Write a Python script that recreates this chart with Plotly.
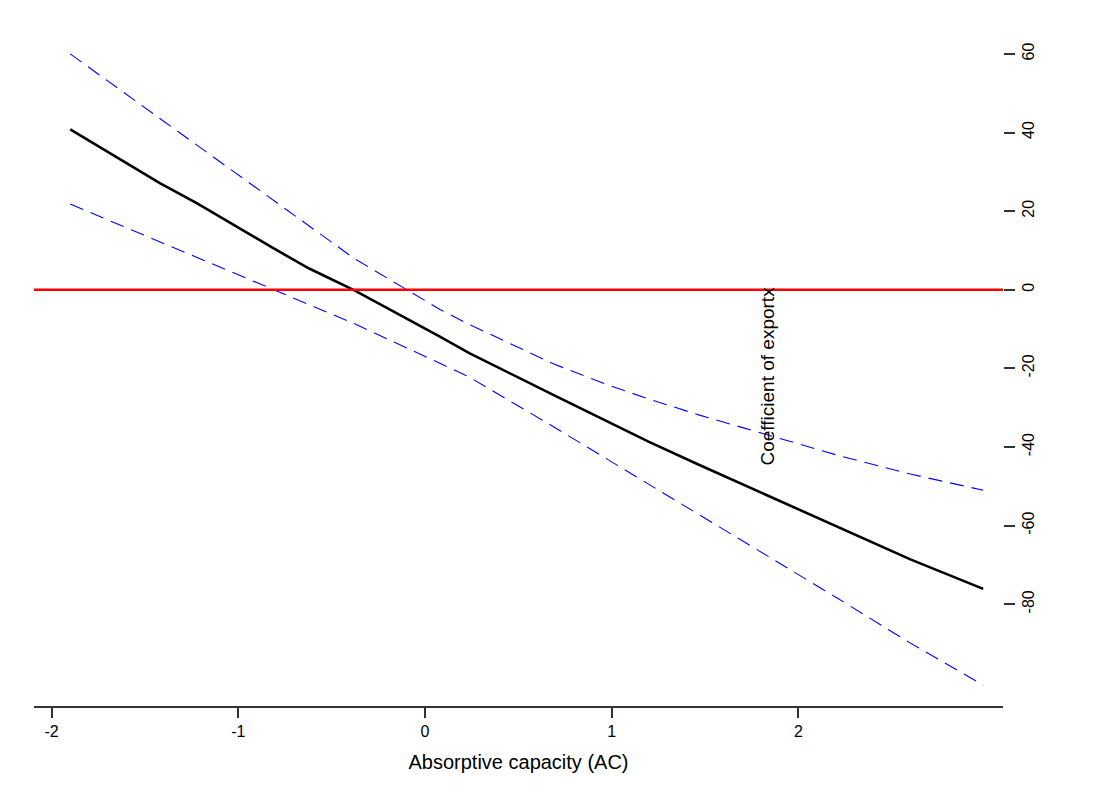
import plotly.graph_objects as go

# Absorptive capacity grid (x) and marginal effect estimates
ac = [-1.90, -1.59, -1.42, -1.22, -0.81, -0.62, -0.38, 0.08, 0.24, 0.69, 0.99, 1.20, 1.47, 1.71, 2.01, 2.21, 2.60, 2.99]
coef = [40.8, 32.0, 27.1, 22.0, 10.5, 5.4, -0.1, -11.9, -16.2, -26.8, -33.8, -38.7, -44.6, -49.7, -56.1, -60.3, -68.6, -76.1]
upper = [60.0, 49.4, 43.6, 36.7, 22.7, 16.2, 8.0, -5.0, -8.9, -18.9, -24.4, -27.8, -31.9, -35.2, -39.4, -42.1, -46.9, -51.0]
lower = [21.8, 15.6, 12.2, 8.2, 0.0, -3.8, -8.6, -18.7, -22.3, -34.9, -43.5, -49.5, -57.3, -64.3, -72.9, -78.5, -89.9, -100.6]

x_ticks = [-2, -1, 0, 1, 2]
y_ticks = [-80, -60, -40, -20, 0, 20, 40, 60]

FONT = "Liberation Sans, Arial, sans-serif"

# page body adds an 8px offset; plot area on screen: x 34..1003, y 26..706
fig = go.Figure()
fig.add_trace(go.Scatter(x=ac, y=upper, mode="lines",
                         line=dict(color="#0000ff", width=1.1, dash="14px,8px"),
                         showlegend=False, hoverinfo="skip"))
fig.add_trace(go.Scatter(x=ac, y=lower, mode="lines",
                         line=dict(color="#0000ff", width=1.1, dash="14px,8px"),
                         showlegend=False, hoverinfo="skip"))
fig.add_trace(go.Scatter(x=ac, y=coef, mode="lines",
                         line=dict(color="#000000", width=2.6),
                         showlegend=False, hoverinfo="skip"))

# zero reference line
fig.add_shape(type="line", xref="paper", yref="y", x0=0, x1=1, y0=0, y1=0,
              line=dict(color="#ff0000", width=2.6), layer="above")

# faint outer frame
fig.add_shape(type="rect", xref="paper", yref="paper",
              x0=(5 - 34) / 969, x1=(1100 - 34) / 969,
              y0=(706 - 820) / 680, y1=(706 - 7) / 680,
              line=dict(color="#e6e6e6", width=1.2), fillcolor="rgba(0,0,0,0)", layer="below")

# rotated y title placed inside the plot
fig.add_annotation(text="Coefficient of exportx", xref="paper", yref="paper",
                   x=(780 - 34) / 969, y=(706 - 376) / 680,
                   textangle=-90, showarrow=False,
                   font=dict(family=FONT, size=19, color="#000000"))

fig.update_layout(
    width=1093, height=801,
    margin=dict(l=26, r=98, t=18, b=103),
    paper_bgcolor="white", plot_bgcolor="white",
    font=dict(family=FONT, color="#000000"),
    xaxis=dict(range=[-2.094, 3.096], tickvals=x_ticks, ticktext=[str(v) for v in x_ticks],
               showgrid=False, zeroline=False, showline=True, linecolor="#333333", linewidth=1.5,
               ticks="outside", ticklen=10, tickwidth=1.5, tickcolor="#333333",
               tickfont=dict(size=16, family=FONT),
               title=dict(text="Absorptive capacity (AC)", font=dict(size=20, family=FONT), standoff=16)),
    yaxis=dict(range=[-105.9, 67.1], tickvals=y_ticks, ticktext=[str(v) for v in y_ticks],
               side="right", showgrid=False, zeroline=False, showline=False,
               ticks="outside", ticklen=11, tickwidth=1.5, tickcolor="#333333",
               tickangle=-90, tickfont=dict(size=16, family=FONT)),
)

fig.write_html("out.html")
